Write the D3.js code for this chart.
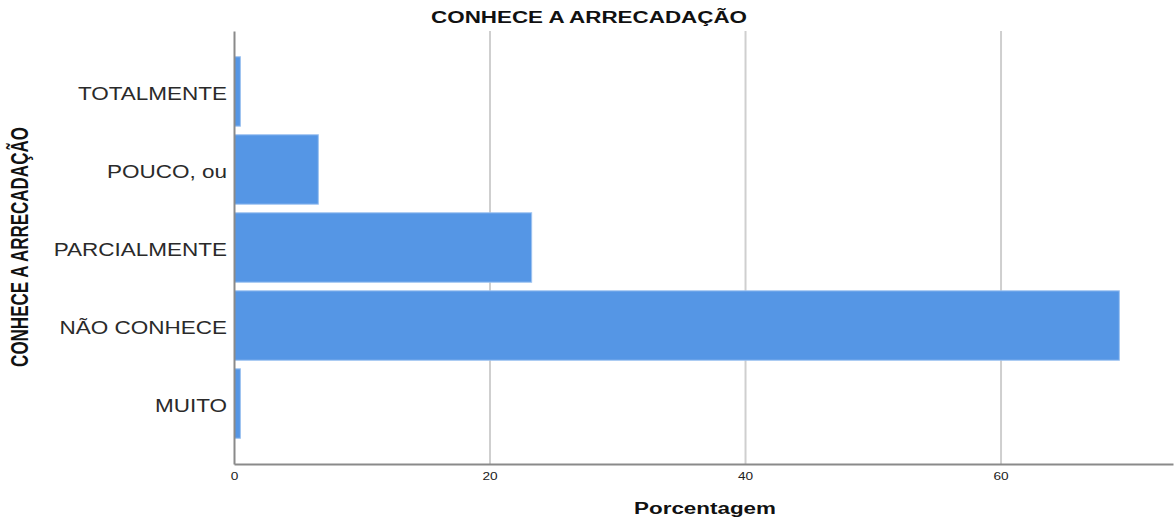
<!DOCTYPE html>
<html>
<head>
<meta charset="utf-8">
<script src="https://cdn.jsdelivr.net/npm/d3@7"></script>
<style>
  body { margin: 0; background: #fff; }
  svg { display: block; font-family: "Liberation Sans", Arial, sans-serif; }
  .domain { stroke: #8a8a8a; stroke-width: 2; }
  .grid line { stroke: #cfcfcf; stroke-width: 2; }
  .grid .domain { display: none; }
</style>
</head>
<body>
<div id="vis"></div>
<script>
const frame_width = 1175;
const frame_height = 519;
const margins = {left: 234, right: 2, top: 31, bottom: 55};
const stretch = 1.4; // the original picture is stretched sideways

// data
const categories = ["TOTALMENTE", "POUCO, ou", "PARCIALMENTE", "NÃO CONHECE", "MUITO"];
const percents = [0.5, 6.6, 23.3, 69.3, 0.5];
const x_ticks = [0, 20, 40, 60];
const chart_title = "CONHECE A ARRECADAÇÃO";
const x_title = "Porcentagem";
const y_title = "CONHECE A ARRECADAÇÃO";

const data = categories.map((c, i) => ({category: c, value: percents[i]}));

const svg = d3.select("#vis")
  .append("svg")
    .attr("width", frame_width)
    .attr("height", frame_height);

const x_scale = d3.scaleLinear()
  .domain([0, 73.5])
  .range([margins.left, frame_width - margins.right]);

const y_scale = d3.scaleBand()
  .domain(categories)
  .range([margins.top, frame_height - margins.bottom])
  .paddingInner(0.11)
  .paddingOuter(0.33);

const bottom = frame_height - margins.bottom;

// gridlines
svg.append("g")
  .attr("class", "grid")
  .attr("transform", "translate(0," + bottom + ")")
  .call(d3.axisBottom(x_scale)
    .tickValues(x_ticks.filter(t => t !== 0))
    .tickSize(-(bottom - margins.top))
    .tickFormat(""));

// bars
svg.selectAll(".bar")
  .data(data)
  .enter()
  .append("rect")
    .attr("class", "bar")
    .attr("x", x_scale(0) + 0.5)
    .attr("y", d => y_scale(d.category))
    .attr("width", d => x_scale(d.value) - x_scale(0) - 0.5)
    .attr("height", y_scale.bandwidth())
    .attr("fill", "#5596e5")
    .attr("stroke", "#9dc2f0")
    .attr("stroke-width", 1);

// x axis
const x_axis = svg.append("g")
  .attr("transform", "translate(0," + bottom + ")")
  .call(d3.axisBottom(x_scale)
    .tickValues(x_ticks)
    .tickSize(0)
    .tickSizeOuter(0));
x_axis.selectAll("text")
  .attr("y", 0)
  .attr("dy", 0)
  .attr("transform", "translate(0,16) scale(1.3,1)")
  .attr("font-size", "10.5px")
  .attr("font-family", "Liberation Sans, Arial, sans-serif")
  .attr("fill", "#222");

// y axis
const y_axis = svg.append("g")
  .attr("transform", "translate(" + margins.left + ",0)")
  .call(d3.axisLeft(y_scale)
    .tickSize(0)
    .tickSizeOuter(0));
y_axis.selectAll("text")
  .attr("x", 0)
  .attr("dy", 0)
  .attr("transform", "translate(-7,8.5) scale(1.25,1)")
  .attr("font-size", "18px")
  .attr("font-family", "Liberation Sans, Arial, sans-serif")
  .attr("fill", "#2a2a2a");

// titles
svg.append("text")
  .attr("transform", "translate(589,23) scale(" + stretch + ",1)")
  .attr("text-anchor", "middle")
  .attr("font-size", "16px")
  .attr("font-weight", "bold")
  .attr("fill", "#111")
  .text(chart_title);

svg.append("text")
  .attr("transform", "translate(705,514) scale(" + stretch + ",1)")
  .attr("text-anchor", "middle")
  .attr("font-size", "16px")
  .attr("font-weight", "bold")
  .attr("fill", "#111")
  .text(x_title);

svg.append("text")
  .attr("transform", "translate(28,247) scale(" + stretch + ",1) rotate(-90)")
  .attr("text-anchor", "middle")
  .attr("font-size", "17px")
  .attr("font-weight", "bold")
  .attr("fill", "#111")
  .text(y_title);
</script>
</body>
</html>
